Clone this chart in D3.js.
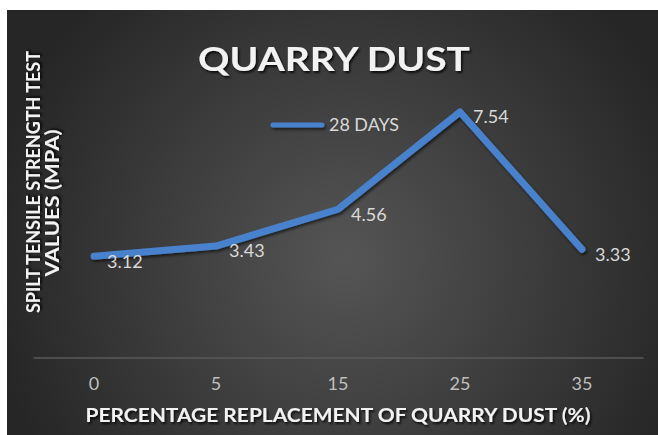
<!DOCTYPE html>
<html><head><meta charset="utf-8">
<script src="https://cdn.jsdelivr.net/npm/d3@7"></script>
<style>html,body{margin:0;padding:0;background:#fff;overflow:hidden}</style>
</head><body>
<script>
const categories = ["0","5","15","25","35"];
const values = [3.12, 3.43, 4.56, 7.54, 3.33];
const seriesName = "28 DAYS";
const title = "QUARRY DUST";
const xTitle = "PERCENTAGE REPLACEMENT OF QUARRY DUST (%)";
const yTitleLines = ["SPILT TENSILE STRENGTH TEST", "VALUES (MPA)"];

const W = 658, H = 435;
const svg = d3.select("body").append("svg").attr("width", W).attr("height", H);
const defs = svg.append("defs");
const rg = defs.append("radialGradient").attr("id","bg")
  .attr("gradientUnits","userSpaceOnUse").attr("cx",345).attr("cy",260).attr("r",360);
rg.append("stop").attr("offset","0%").attr("stop-color","#555555");
rg.append("stop").attr("offset","100%").attr("stop-color","#262626");
const f = defs.append("filter").attr("id","sh").attr("filterUnits","userSpaceOnUse")
  .attr("x",0).attr("y",0).attr("width",W).attr("height",H);
f.append("feDropShadow").attr("dx",1.5).attr("dy",2).attr("stdDeviation",1.5).attr("flood-color","#000").attr("flood-opacity",0.6);
const ft = defs.append("filter").attr("id","tsh").attr("x","-10%").attr("y","-30%").attr("width","120%").attr("height","160%");
ft.append("feDropShadow").attr("dx",1.5).attr("dy",2).attr("stdDeviation",1).attr("flood-color","#000").attr("flood-opacity",0.8);

svg.append("rect").attr("x",7).attr("y",10).attr("width",W-7).attr("height",H-10).attr("fill","url(#bg)");

const x = d3.scaleBand().domain(categories).range([33, 643]);
const y = d3.scaleLinear().domain([0, 8]).range([358, 97]);
const font = "Lato, 'Open Sans', sans-serif";

// baseline
svg.append("g").attr("transform","translate(0,357.5)")
  .call(d3.axisBottom(x).tickSize(0).tickPadding(20))
  .call(g => g.select(".domain").attr("stroke","#5a5a5a").attr("stroke-width",1.5))
  .call(g => g.selectAll("text").attr("fill","#bfbfbf").attr("font-size",18).attr("font-family",font));

// line
const line = d3.line().x((d,i)=>x(categories[i])+x.bandwidth()/2).y(d=>y(d));
svg.append("path").datum(values).attr("d", line).attr("fill","none")
  .attr("stroke","#4a82cc").attr("stroke-width",7).attr("stroke-linejoin","round").attr("stroke-linecap","round")
  .attr("filter","url(#sh)");

// data labels
svg.append("g").selectAll("text").data(values).join("text")
  .attr("x",(d,i)=>x(categories[i])+x.bandwidth()/2+13)
  .attr("y",d=>y(d)+5).attr("dy","0.35em")
  .attr("fill","#d9d9d9").attr("font-size",18).attr("font-family",font)
  .text(d=>d.toFixed(2));

// title
svg.append("text").attr("x",334).attr("y",71).attr("text-anchor","middle")
  .attr("fill","#f2f2f2").attr("font-size",33).attr("font-weight","bold").attr("font-family",font)
  .attr("textLength",272).attr("lengthAdjust","spacingAndGlyphs").attr("filter","url(#tsh)")
  .text(title);

// legend
svg.append("line").attr("x1",273).attr("x2",322).attr("y1",125).attr("y2",125)
  .attr("stroke","#4a82cc").attr("stroke-width",5).attr("stroke-linecap","round").attr("filter","url(#sh)");
svg.append("text").attr("x",329).attr("y",125).attr("dy","0.35em")
  .attr("fill","#d9d9d9").attr("font-size",18).attr("font-family",font)
  .attr("textLength",70).attr("lengthAdjust","spacingAndGlyphs").text(seriesName);

// x title
svg.append("text").attr("x",338).attr("y",415).attr("dy","0.35em").attr("text-anchor","middle")
  .attr("fill","#f2f2f2").attr("font-size",19).attr("font-weight","bold").attr("font-family",font)
  .attr("textLength",505).attr("lengthAdjust","spacingAndGlyphs").attr("filter","url(#tsh)")
  .text(xTitle);

// y title
const yt = [{cx:34, cy:182, len:262}, {cx:53, cy:203, len:147}];
yTitleLines.forEach((t,i)=>{
  svg.append("text").attr("transform",`translate(${yt[i].cx},${yt[i].cy}) rotate(-90)`)
    .attr("text-anchor","middle").attr("dy","0.35em")
    .attr("fill","#f2f2f2").attr("font-size",18.5).attr("font-weight","bold").attr("font-family",font)
    .attr("textLength",yt[i].len).attr("lengthAdjust","spacingAndGlyphs").attr("filter","url(#tsh)")
    .text(t);
});
</script>
</body></html>
